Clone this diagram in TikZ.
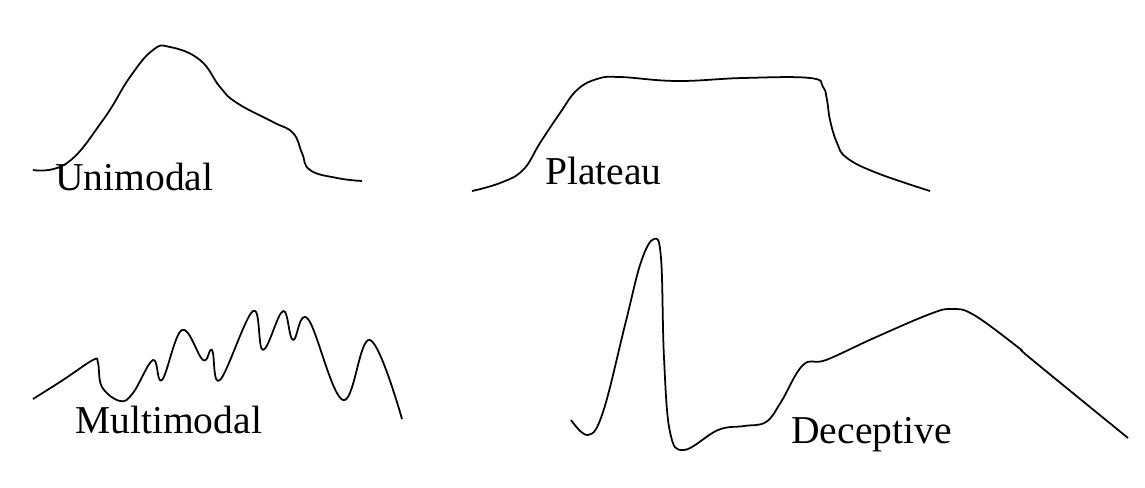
\documentclass[tikz,border=0pt]{standalone}
\usepackage{fontspec}
\setmainfont{Liberation Serif}
\begin{document}
\begin{tikzpicture}[x=0.02cm,y=-0.02cm,
  curve/.style={line width=1pt, black, line join=round},
  lbl/.style={anchor=base west, inner sep=0pt, font=\fontsize{22.5}{27}\selectfont}]
\useasboundingbox (0,0) rectangle (1145,487);
% Unimodal
\draw[curve] plot[smooth, tension=0.75] coordinates {
 (33,170) (67,163) (103,120) (130,77) (153,50) (170,47) (200,60) (220,87)
 (237,103) (273,122) (293,133) (302,153) (310,170) (337,178) (362,181)};
\node[lbl] (uni) at (55,190) {Unimodal};
% Plateau
\draw[curve] plot[smooth, tension=0.7] coordinates {
 (472,191) (500,183) (523,170) (540,143) (560,113) (577,90) (597,79) (620,77)
 (677,81) (743,78) (810,78) (823,87) (827,100) (830,120) (837,143) (847,158)
 (877,173) (930,191)};
\node[lbl] (pla) at (545,184) {Plateau};
% Multimodal
\draw[curve] plot[smooth, tension=0.65] coordinates {
 (33,399) (63,380) (93,360) (98,363) (102,387) (120,401) (133,393) (153,360)
 (162,380) (182,330) (203,360) (212,350) (220,380) (253,311) (263,350)
 (283,311) (293,340) (308,319) (343,400) (370,340) (402,419)};
\node[lbl] (mul) at (75,433) {Multimodal};
% Deceptive
\draw[curve] plot[smooth, tension=0.65] coordinates {
 (571,420) (588,435) (603,412) (625,325) (641,262) (654,239) (661,258)
 (664,358) (670,432) (684,450) (718,430) (744,426) (766,422) (781,402)
 (803,365) (826,360) (874,338) (930,314) (952,309) (974,315) (1019,348)
 (1030,358) (1128,438)};
\node[lbl] (dec) at (791,443) {Deceptive};
\end{tikzpicture}
\end{document}
